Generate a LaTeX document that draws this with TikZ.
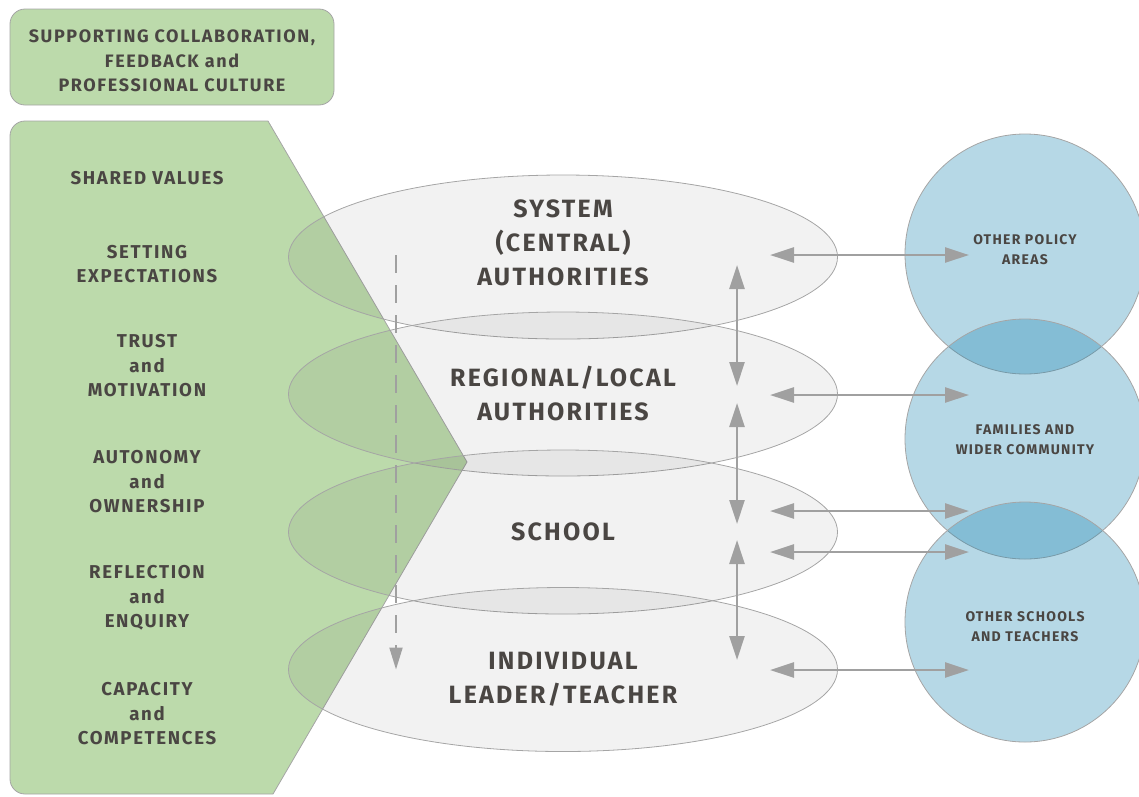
\documentclass[tikz,border=0pt]{standalone}
\usepackage{fontspec}
\setmainfont{Fira Sans}[LetterSpace=9]
\usetikzlibrary{shapes.geometric,arrows.meta}
\definecolor{leafgreen}{RGB}{188,218,171}
\definecolor{darktext}{RGB}{74,70,67}
\definecolor{arrowgray}{RGB}{160,160,160}
\definecolor{rimgray}{RGB}{165,165,165}
\definecolor{seablue}{RGB}{23,131,176}

\begin{document}
\begin{tikzpicture}[x=1pt,y=-1pt,
  every node/.style={text=darktext},
  pillar/.style={align=center,font=\bfseries\fontsize{18.6}{24.5}\selectfont},
  heading/.style={align=center,font=\bfseries\fontsize{18}{24.5}\selectfont},
  tier/.style={align=center,font=\bfseries\fontsize{25}{34}\selectfont},
  outer/.style={align=center,font=\bfseries\fontsize{14}{20}\selectfont},
  layer/.style={ellipse,draw=rimgray,line width=0.8pt,fill=black,fill opacity=0.05,
    minimum width=549pt,minimum height=164pt},
  partner/.style={circle,draw=rimgray,line width=0.8pt,fill=seablue,fill opacity=0.315,
    minimum size=240pt},
  link/.style={{Triangle[length=24pt,width=15pt]}-{Triangle[length=24pt,width=15pt]},
    draw=arrowgray,line width=2.6pt},
  flow/.style={-{Triangle[length=22pt,width=13pt]},draw=arrowgray,line width=2pt,
    dash pattern=on 18pt off 12pt}]
  \useasboundingbox (0,0) rectangle (1139,796);

  % green band of supporting conditions
  \draw[fill=leafgreen,draw=rimgray,line width=0.8pt]
    (273,794) [rounded corners=15pt] -- (10,794) -- (10,121) [sharp corners] -- (268,121)
    -- (467,462) -- cycle;
  \node[pillar] (shared) at (147,178) {SHARED VALUES};
  \node[pillar] (expect) at (147,264) {SETTING\\EXPECTATIONS};
  \node[pillar] (trust) at (147,366) {TRUST\\and\\MOTIVATION};
  \node[pillar] (autonomy) at (147,482) {AUTONOMY\\and\\OWNERSHIP};
  \node[pillar] (reflect) at (147,598) {REFLECTION\\and\\ENQUIRY};
  \node[pillar] (capacity) at (147,714) {CAPACITY\\and\\COMPETENCES};

  \node[draw=rimgray,line width=0.8pt,fill=leafgreen,rounded corners=15pt,
    minimum width=324pt,minimum height=96pt] (culture) at (172,57) {};
  \node[heading] (culture_t) at ([yshift=-4pt]culture.center)
    {SUPPORTING COLLABORATION,\\FEEDBACK and\\PROFESSIONAL CULTURE};

  % layers of the system
  \node[layer] (sys) at (563,257) {};
  \node[layer] (reg) at (563,394) {};
  \node[layer] (sch) at (563,532) {};
  \node[layer] (ind) at (563,669.5) {};
  \node[tier] (sys_t) at ([yshift=14pt]sys.center) {SYSTEM\\(CENTRAL)\\AUTHORITIES};
  \node[tier] (reg_t) at (reg.center) {REGIONAL/LOCAL\\AUTHORITIES};
  \node[tier] (sch_t) at (sch.center) {SCHOOL};
  \node[tier] (ind_t) at ([yshift=-10pt]ind.center) {INDIVIDUAL\\LEADER/TEACHER};

  % partners outside
  \node[partner] (policy) at (1025,254) {};
  \node[partner] (family) at (1025,439) {};
  \node[partner] (others) at (1025,622) {};
  \node[outer] (policy_t) at ([yshift=4pt]policy.center) {OTHER POLICY\\AREAS};
  \node[outer] (family_t) at ([yshift=-1pt]family.center) {FAMILIES AND\\WIDER COMMUNITY};
  \node[outer] (others_t) at ([yshift=-5pt]others.center) {OTHER SCHOOLS\\AND TEACHERS};

  \draw[flow] ([xshift=-167pt,yshift=2pt]sys.center) -- ([xshift=-167pt]ind.center);

  \draw[link] ([xshift=174pt,yshift=-8pt]sys.center) -- ([xshift=174pt,yshift=8pt]reg.center);
  \draw[link] ([xshift=174pt,yshift=-9pt]reg.center) -- ([xshift=174pt,yshift=8pt]sch.center);
  \draw[link] ([xshift=174pt,yshift=-8pt]sch.center) -- ([xshift=174pt,yshift=9.5pt]ind.center);

  \draw[link] ([xshift=207pt,yshift=2pt]sys.center) -- ([xshift=-56pt,yshift=-1pt]policy.center);
  \draw[link] ([xshift=207pt,yshift=-1pt]reg.center) -- ([xshift=-56pt,yshift=44pt]family.center);
  \draw[link] ([xshift=207pt,yshift=21pt]sch.center) -- ([xshift=-56pt,yshift=-72pt]family.center);
  \draw[link] ([xshift=207pt,yshift=-20pt]sch.center) -- ([xshift=-56pt,yshift=70pt]others.center);
  \draw[link] ([xshift=207pt,yshift=-0.5pt]ind.center) -- ([xshift=-56pt,yshift=-48pt]others.center);
\end{tikzpicture}
\end{document}
